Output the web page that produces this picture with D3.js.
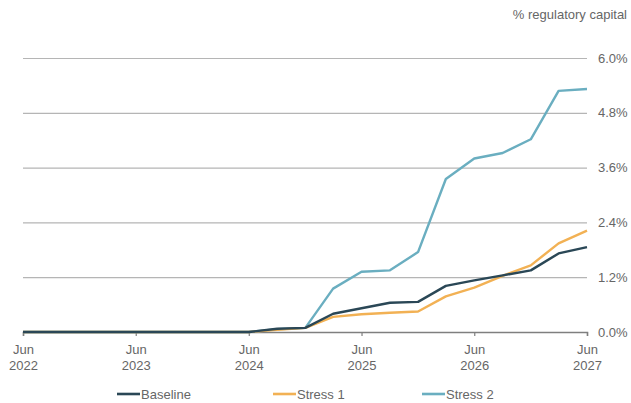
<!DOCTYPE html>
<html>
<head>
<meta charset="utf-8">
<script src="https://cdn.jsdelivr.net/npm/d3@7"></script>
<style>
  html, body { margin: 0; padding: 0; background: #fff; }
  svg { display: block; }
  svg text { font-family: "Liberation Sans", Arial, sans-serif; }
</style>
</head>
<body>
<svg id="chart" width="631" height="403"></svg>
<script>
// Quarterly dates, Jun 2022 – Jun 2027
const quarters = ["2022-06","2022-09","2022-12","2023-03","2023-06","2023-09","2023-12","2024-03",
  "2024-06","2024-09","2024-12","2025-03","2025-06","2025-09","2025-12","2026-03",
  "2026-06","2026-09","2026-12","2027-03","2027-06"];

// Losses, % of regulatory capital
const baseline = [0,0,0,0,0,0,0,0, 0,0.07,0.09,0.40,0.52,0.64,0.66,1.01,1.13,1.24,1.35,1.72,1.86];
const stress1  = [0,0,0,0,0,0,0,0, 0,0.05,0.09,0.33,0.39,0.42,0.45,0.78,0.97,1.23,1.46,1.94,2.22];
const stress2  = [0,0,0,0,0,0,0,0, 0,0.06,0.09,0.95,1.32,1.35,1.75,3.35,3.80,3.92,4.22,5.28,5.32];

const seriesNames  = ["Baseline", "Stress 1", "Stress 2"];
const seriesColors = ["#2a4756", "#f2b154", "#6aaec0"];
const yTicks = [0, 1.2, 2.4, 3.6, 4.8, 6.0];
const xTickYears = [2022, 2023, 2024, 2025, 2026, 2027];

(function () {
  const parse = d3.timeParse("%Y-%m");
  const dates = quarters.map(parse);
  const series = [baseline, stress1, stress2];
  const textColor = "#666666";
  const fontSize = 13;

  const svg = d3.select("#chart");
  const plotLeft = 23, plotRight = 587, plotTop = 58, plotBottom = 332;

  const x = d3.scaleTime()
    .domain([parse("2022-06"), parse("2027-06")])
    .range([plotLeft, plotRight]);
  const y = d3.scaleLinear().domain([0, 6]).range([plotBottom, plotTop]);

  // Horizontal gridlines with right-hand labels
  const yAxis = d3.axisRight(y)
    .tickValues(yTicks)
    .tickSize(plotRight - plotLeft)
    .tickFormat(d => d3.format(".1f")(d) + "%");
  const gy = svg.append("g").attr("transform", `translate(${plotLeft},0)`).call(yAxis);
  gy.attr("font-family", null).attr("font-size", null);
  gy.select(".domain").remove();
  gy.selectAll(".tick line").attr("stroke", "#b5b5b5").attr("stroke-width", 1.2);
  gy.selectAll(".tick text")
    .attr("x", plotRight - plotLeft + 11)
    .attr("fill", textColor)
    .attr("font-size", fontSize);

  // Unit label
  svg.append("text")
    .attr("x", 627).attr("y", 19)
    .attr("text-anchor", "end")
    .attr("fill", textColor)
    .attr("font-size", fontSize)
    .text("% regulatory capital");

  // Bottom axis
  const xAxis = d3.axisBottom(x)
    .tickValues(xTickYears.map(yr => parse(yr + "-06")))
    .tickSize(4)
    .tickFormat(() => "");
  const gx = svg.append("g").attr("transform", `translate(0,${plotBottom})`).call(xAxis);
  gx.attr("font-family", null).attr("font-size", null);
  gx.select(".domain").attr("stroke", "#7f7f7f").attr("stroke-width", 1.5);
  gx.selectAll(".tick line").attr("stroke", "#7f7f7f").attr("stroke-width", 1.2);
  gx.selectAll(".tick").each(function (d) {
    const t = d3.select(this);
    t.append("text").attr("y", 22).attr("text-anchor", "middle")
      .attr("fill", textColor).attr("font-size", fontSize).text("Jun");
    t.append("text").attr("y", 38).attr("text-anchor", "middle")
      .attr("fill", textColor).attr("font-size", fontSize).text(d.getFullYear());
  });

  // Series lines; stress series first so baseline sits on top at zero
  const line = d3.line()
    .x((d, i) => x(dates[i]))
    .y(d => y(d));
  [2, 1, 0].forEach(k => {
    svg.append("path")
      .datum(series[k])
      .attr("fill", "none")
      .attr("stroke", seriesColors[k])
      .attr("stroke-width", 2.4)
      .attr("stroke-linejoin", "round")
      .attr("d", line);
  });

  // Legend
  const legendX = [117, 273, 422];
  const legend = svg.append("g").attr("transform", "translate(0,394)");
  seriesNames.forEach((name, k) => {
    legend.append("line")
      .attr("x1", legendX[k]).attr("x2", legendX[k] + 23)
      .attr("y1", 0).attr("y2", 0)
      .attr("stroke", seriesColors[k]).attr("stroke-width", 2.6);
    legend.append("text")
      .attr("x", legendX[k] + 24).attr("y", 4.5)
      .attr("fill", textColor).attr("font-size", fontSize)
      .text(name);
  });
})();
</script>
</body>
</html>
